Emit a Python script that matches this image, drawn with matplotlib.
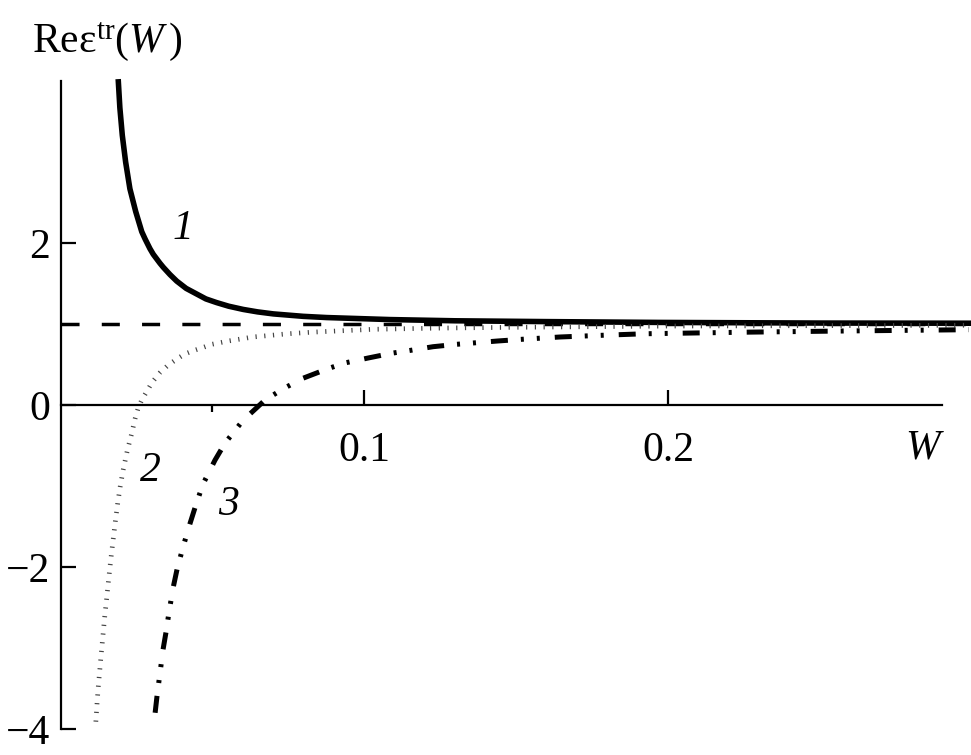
import matplotlib
matplotlib.use('Agg')
import matplotlib.pyplot as plt
from matplotlib.ticker import FixedLocator, NullFormatter

plt.rcParams['font.family'] = 'Liberation Serif'
plt.rcParams['mathtext.fontset'] = 'custom'
plt.rcParams['mathtext.rm'] = 'Liberation Serif'
plt.rcParams['mathtext.it'] = 'Liberation Serif:italic'

# values
# curve 1 (solid)
w1 = [0.0192, 0.0197, 0.0205, 0.0216, 0.0230, 0.0249, 0.0269, 0.0280, 0.0296, 0.0307,
      0.0329, 0.0340, 0.0362, 0.0384, 0.0415, 0.0450, 0.0480, 0.0515, 0.0555, 0.0603,
      0.0650, 0.0702, 0.0800, 0.0877, 0.1086, 0.130, 0.160, 0.197, 0.250, 0.299]
e1 = [3.99, 3.67, 3.33, 3.00, 2.67, 2.39, 2.14, 2.05, 1.93, 1.86,
      1.75, 1.70, 1.61, 1.53, 1.44, 1.37, 1.31, 1.265, 1.22, 1.18,
      1.15, 1.125, 1.095, 1.08, 1.055, 1.04, 1.03, 1.02, 1.012, 1.01]

# curve 2 (dotted)
w2 = [0.0118, 0.0122, 0.0126, 0.0131, 0.0136, 0.0141, 0.0147, 0.0153, 0.0161, 0.0168,
      0.0175, 0.0182, 0.0190, 0.0198, 0.0208, 0.0221, 0.0236, 0.0247, 0.0257, 0.0270,
      0.0286, 0.0303, 0.0329, 0.0355, 0.0385, 0.0411, 0.0438, 0.0470, 0.0500, 0.0553,
      0.0635, 0.0750, 0.0832, 0.0944, 0.1030, 0.125, 0.150, 0.200, 0.250, 0.299]
e2 = [-3.91, -3.68, -3.48, -3.27, -3.06, -2.86, -2.62, -2.41, -2.12, -1.88,
      -1.66, -1.44, -1.21, -1.01, -0.80, -0.57, -0.35, -0.17, -0.04, 0.07,
      0.17, 0.28, 0.40, 0.49, 0.57, 0.63, 0.67, 0.71, 0.75, 0.79,
      0.84, 0.88, 0.90, 0.92, 0.935, 0.95, 0.96, 0.975, 0.98, 0.985]

# curve 3 (dash-dot-dot)
w3 = [0.0313, 0.0319, 0.0329, 0.0339, 0.0349, 0.0359, 0.0372, 0.0385, 0.0405, 0.0428,
      0.0444, 0.0470, 0.0510, 0.0543, 0.0602, 0.0674, 0.0734, 0.0799, 0.0882, 0.0938,
      0.1013, 0.1092, 0.1145, 0.1227, 0.1306, 0.1438, 0.1513, 0.1645, 0.1776, 0.1924,
      0.227, 0.260, 0.299]
e3 = [-3.80, -3.60, -3.31, -3.02, -2.80, -2.55, -2.26, -2.03, -1.75, -1.46,
      -1.27, -0.98, -0.68, -0.47, -0.19, 0.06, 0.20, 0.33, 0.45, 0.52,
      0.58, 0.64, 0.67, 0.72, 0.75, 0.79, 0.81, 0.84, 0.86, 0.88,
      0.90, 0.915, 0.93]

asymptote = 1.0
xticks = [0.1, 0.2]
xtick_labels = ['0.1', '0.2']
xminor = [0.05]
yticks = [-4, -2, 0, 2]

FS = 30

fig = plt.figure(figsize=(9.71, 7.55), dpi=100)
ax = fig.add_axes([0.0628, 0.0291, 0.9372, 0.8689])
ax.set_xlim(0.00033, 0.29967)
ax.set_ylim(-4.05, 4.05)

# reference line
ax.axhline(asymptote, color='black', lw=2.5, dashes=(5.2, 6.4))

ax.plot(w1, e1, color='black', lw=4.0, solid_joinstyle='round')
ax.plot(w2, e2, color='#444444', lw=3.4, dashes=(0.25, 1.6))
ax.plot(w3, e3, color='black', lw=3.6, dashes=(3.4, 2.6, 0.6, 2.6, 0.6, 3.0))

# axes look
ax.spines['top'].set_visible(False)
ax.spines['right'].set_visible(False)
ax.spines['bottom'].set_position(('data', 0))
ax.spines['bottom'].set_bounds(0.00033, 0.2901)
ax.spines['left'].set_bounds(-4, 4)
for s in ['bottom', 'left']:
    ax.spines[s].set_linewidth(1.6)

ax.set_yticks(yticks)
ax.tick_params(axis='y', direction='in', length=10.5, width=1.6, pad=8, labelsize=FS)
ax.set_xticks(xticks)
ax.set_xticklabels(xtick_labels)
ax.tick_params(axis='x', which='major', direction='in', length=10.5, width=1.6, pad=19, labelsize=FS)
ax.xaxis.set_minor_locator(FixedLocator(xminor))
ax.xaxis.set_minor_formatter(NullFormatter())
ax.tick_params(axis='x', which='minor', direction='out', length=5, width=1.6)

# texts
ax.text(0.2836, -0.53, 'W', fontsize=FS, style='italic', ha='center', va='center')
ax.text(-0.0092, 4.36, r'Reε$^{\mathrm{tr}}$($\mathit{W}\,$)', fontsize=FS,
        ha='left', va='baseline', clip_on=False)
ax.text(0.0405, 2.18, '1', fontsize=FS, style='italic', ha='center', va='center')
ax.text(0.0296, -0.81, '2', fontsize=FS, style='italic', ha='center', va='center')
ax.text(0.0553, -1.23, '3', fontsize=FS, style='italic', ha='center', va='center')

fig.savefig('out.png', dpi=100)
